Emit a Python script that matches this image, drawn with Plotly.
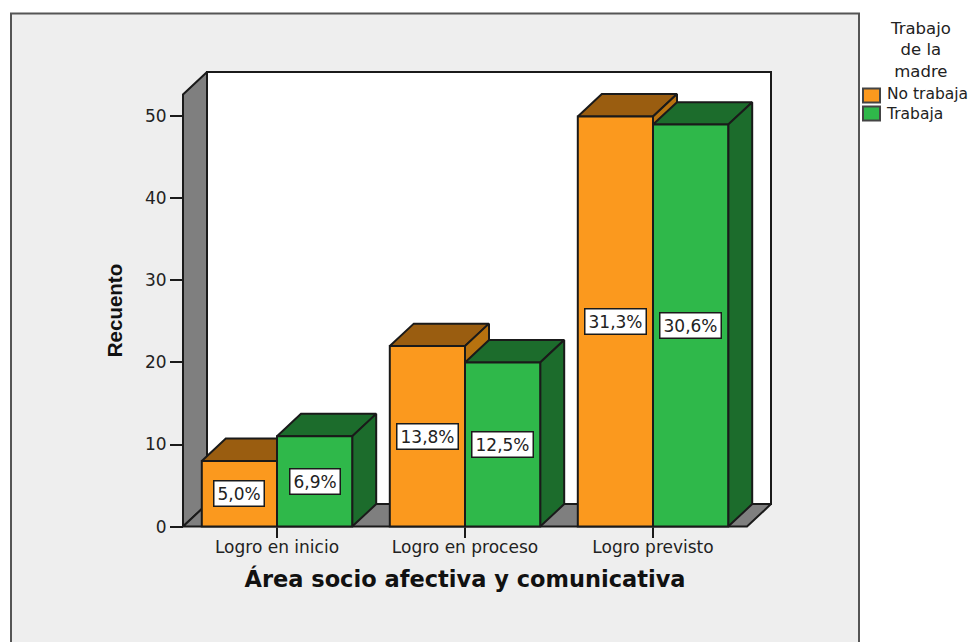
import plotly.graph_objects as go

categories = ["Logro en inicio", "Logro en proceso", "Logro previsto"]
no_trabaja = [8, 22, 50]
trabaja = [11, 20, 49]
no_trabaja_pct = ["5,0%", "13,8%", "31,3%"]
trabaja_pct = ["6,9%", "12,5%", "30,6%"]
y_ticks = [0, 10, 20, 30, 40, 50]
legend_title = ["Trabajo", "de la", "madre"]
legend_names = ["No trabaja", "Trabaja"]

# The page has an 8 px body margin: the figure starts at page pixel (8, 8).
PAGE = 8
W, H = 978, 642
PX_X, PX_Y = 188.0, 8.22          # pixels per category, pixels per count
ORIGIN_X, ORIGIN_Y = 277, 527     # page pixel of category 0 centre and of count 0
DEPTH_X, DEPTH_Y = 24, 22.5       # 3-D depth in pixels
PAD = 4
LEFT, RIGHT = 183 - DEPTH_X - PAD, 747 + DEPTH_X + PAD
TOP, BOTTOM = 94 - DEPTH_Y - PAD, 527 + DEPTH_Y + PAD
PW, PH = RIGHT - LEFT, BOTTOM - TOP
X0, X1 = -0.5, 2.5
Y_MAX = (527 - 94) / PX_Y
DX, DY = DEPTH_X / PX_X, DEPTH_Y / PX_Y
BAR = 0.4
INK = "#1a1a1a"
TXT = "#222222"
ORANGE, ORANGE_TOP, ORANGE_SIDE = "#FB991E", "#9A5D10", "#B8720F"
GREEN, GREEN_DARK = "#2FB84A", "#1C6C2C"
WALL = "#7F7F7F"
FONT = "DejaVu Sans"


def px(x):
    return (x - LEFT) / PW


def py(y):
    return (BOTTOM - y) / PH


fig = go.Figure()


def poly(xs, ys, color, z):
    fig.add_trace(go.Scatter(
        x=xs + xs[:1], y=ys + ys[:1], mode="lines", fill="toself", fillcolor=color,
        line=dict(color=INK, width=2), cliponaxis=False, showlegend=False,
        hoverinfo="skip", zorder=z))


# walls and floor
poly([X0 + DX, X1 + DX, X1 + DX, X0 + DX], [DY, DY, Y_MAX + DY, Y_MAX + DY], "#FFFFFF", 0)
poly([X0, X0 + DX, X0 + DX, X0], [0, DY, Y_MAX + DY, Y_MAX], WALL, 0)
poly([X0, X1, X1 + DX, X0 + DX], [0, 0, DY, DY], WALL, 0)


def boxes(values, left, top_color, side_color, z):
    for i, v in enumerate(values):
        a, b = i + left, i + left + BAR
        poly([a, b, b + DX, a + DX], [v, v, v + DY, v + DY], top_color, z)
        poly([b, b + DX, b + DX, b], [0, DY, v + DY, v], side_color, z)


boxes(no_trabaja, -BAR, ORANGE_TOP, ORANGE_SIDE, 1)
fig.add_trace(go.Bar(name=legend_names[0], x=[0, 1, 2], y=no_trabaja, width=BAR, offset=-BAR,
                     marker=dict(color=ORANGE, line=dict(color=INK, width=2)), zorder=2))
boxes(trabaja, 0, GREEN_DARK, GREEN_DARK, 3)
fig.add_trace(go.Bar(name=legend_names[1], x=[0, 1, 2], y=trabaja, width=BAR, offset=0,
                     marker=dict(color=GREEN, line=dict(color=INK, width=2)), zorder=4))

annotations = []
for values, labels, off in ((no_trabaja, no_trabaja_pct, -BAR / 2), (trabaja, trabaja_pct, BAR / 2)):
    for i, (v, t) in enumerate(zip(values, labels)):
        annotations.append(dict(
            x=i + off, y=v / 2, text=t, showarrow=False, bgcolor="#FFFFFF",
            bordercolor=INK, borderwidth=1.5, borderpad=3, height=18,
            font=dict(family=FONT, size=17, color=TXT)))

# legend block
annotations.append(dict(
    xref="paper", yref="paper", x=px(920), y=py(49), text="<br>".join(legend_title),
    showarrow=False, align="center", xanchor="center", yanchor="middle",
    font=dict(family=FONT, size=16.5, color=TXT)))
annotations.append(dict(
    xref="paper", yref="paper", x=px(884), y=py(104), text="<br>".join(legend_names),
    showarrow=False, align="left", xanchor="left", yanchor="middle",
    font=dict(family=FONT, size=15.5, color=TXT)))

shapes = [dict(type="rect", xref="paper", yref="paper", layer="below",
               x0=px(11), x1=px(859), y0=py(660), y1=py(13),
               fillcolor="#EEEEEE", line=dict(color="#555555", width=2))]
for yt, col in ((88, ORANGE), (106, GREEN)):
    shapes.append(dict(type="rect", xref="paper", yref="paper",
                       x0=px(863), x1=px(880), y0=py(yt + 14), y1=py(yt),
                       fillcolor=col, line=dict(color="#444444", width=2)))

fig.update_layout(
    width=W, height=H,
    margin=dict(l=LEFT - PAGE, r=W - (RIGHT - PAGE), t=TOP - PAGE, b=H - (BOTTOM - PAGE), pad=0),
    paper_bgcolor="#FFFFFF", plot_bgcolor="rgba(0,0,0,0)",
    barmode="overlay", showlegend=False,
    annotations=annotations, shapes=shapes,
    xaxis=dict(
        range=[(LEFT - ORIGIN_X) / PX_X, (RIGHT - ORIGIN_X) / PX_X],
        anchor="free", position=py(ORIGIN_Y),
        tickmode="array", tickvals=[0, 1, 2], ticktext=categories,
        ticks="outside", ticklen=10, tickwidth=2, tickcolor=INK, showgrid=False,
        zeroline=False, showline=False, ticklabelstandoff=-5,
        tickfont=dict(family=FONT, size=17, color=TXT),
        title=dict(text="Área socio afectiva y comunicativa", standoff=15,
                   font=dict(family=FONT, size=22.5, color="#111111", weight="bold"))),
    yaxis=dict(
        range=[(ORIGIN_Y - BOTTOM) / PX_Y, (ORIGIN_Y - TOP) / PX_Y],
        anchor="free", position=px(183),
        tickmode="array", tickvals=y_ticks,
        ticks="outside", ticklen=13, tickwidth=2, tickcolor=INK, showgrid=False,
        zeroline=False, showline=False,
        tickfont=dict(family=FONT, size=17, color=TXT),
        title=dict(text="Recuento", standoff=15,
                   font=dict(family="Liberation Sans", size=20.5, color="#111111", weight="bold"))),
)

fig.write_html("out.html")
